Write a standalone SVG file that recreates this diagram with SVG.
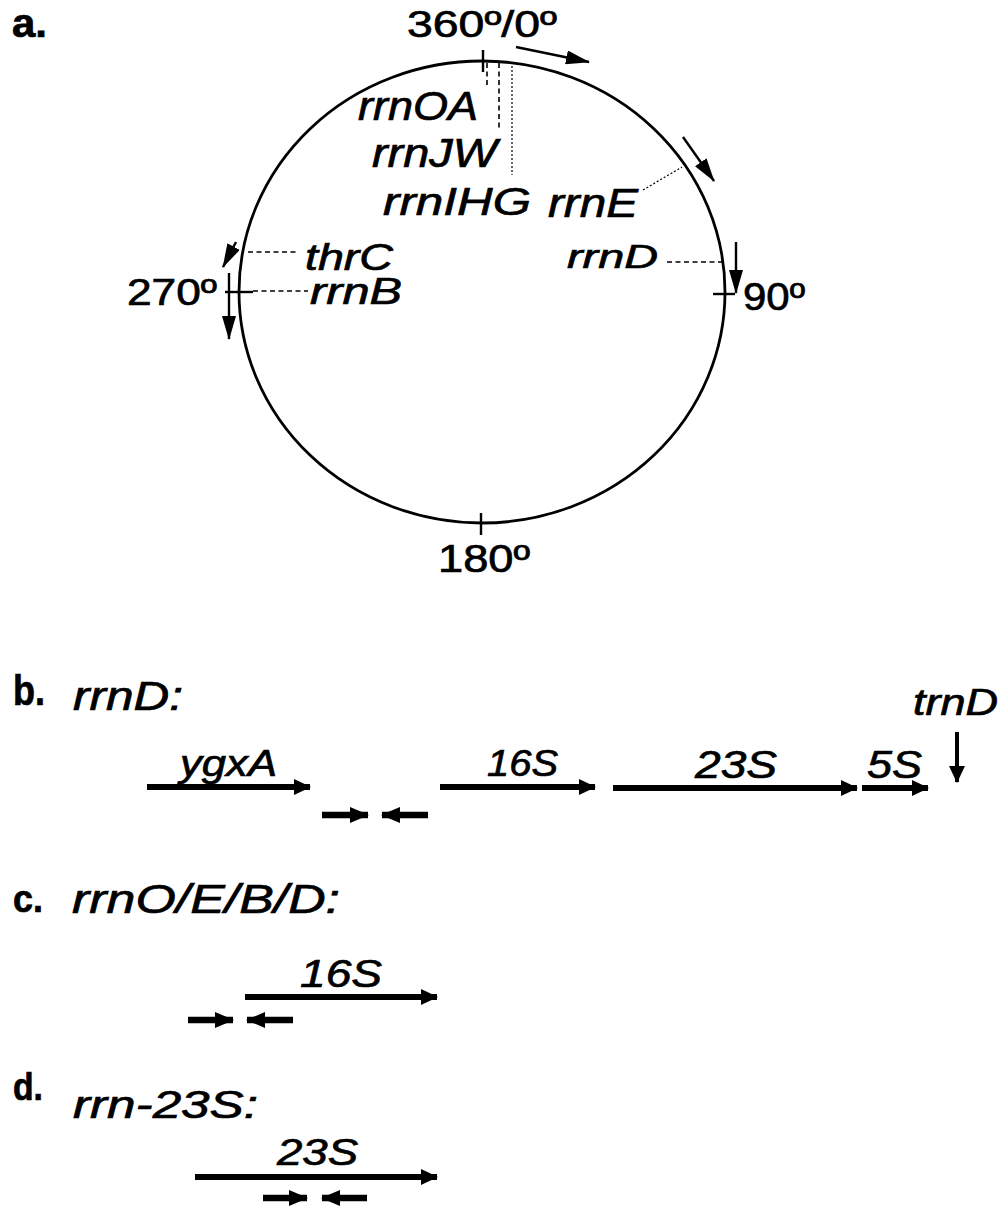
<svg xmlns="http://www.w3.org/2000/svg" width="1005" height="1206" viewBox="0 0 1005 1206">
<defs>
<style>
text{font-family:"Liberation Sans",Arial,sans-serif;fill:#000;stroke:#000;stroke-width:0.7}
.it{font-style:italic}
.bd{font-weight:bold}
.ln{stroke:#000;fill:none}
.thin{stroke-width:2.4}
.dash{stroke-width:1.6;stroke-dasharray:5 3.5}
.dot{stroke-width:1.2;stroke-dasharray:2 2}
.gene{stroke-width:6}
.primer{stroke-width:6.5}
</style>
<marker id="hThin" markerUnits="userSpaceOnUse" markerWidth="24" markerHeight="14" refX="23" refY="7" orient="auto"><path d="M0,0 L24,7 L0,14 z" fill="#000"/></marker>
<marker id="hGene" markerUnits="userSpaceOnUse" markerWidth="17" markerHeight="16" refX="16" refY="8" orient="auto"><path d="M0,0 L17,8 L0,16 z" fill="#000"/></marker>
<marker id="hPrimer" markerUnits="userSpaceOnUse" markerWidth="19" markerHeight="16" refX="18" refY="8" orient="auto"><path d="M0,0 L19,8 L0,16 z" fill="#000"/></marker>
</defs>
<rect width="1005" height="1206" fill="#fff"/>

<g id="panel-a">
  <text class="bd" x="12" y="37" font-size="40" textLength="35" lengthAdjust="spacingAndGlyphs">a.</text>
  <g id="chromosome">
    <ellipse class="ln" cx="482" cy="292" rx="243" ry="231" stroke-width="2.8"/>
    <line class="ln thin" x1="483" y1="50" x2="483" y2="72"/>
    <line class="ln thin" x1="713" y1="294" x2="735" y2="294"/>
    <line class="ln thin" x1="481" y1="513" x2="481" y2="535"/>
    <line class="ln thin" x1="225" y1="292" x2="253" y2="292"/>
  </g>
  <g id="degree-labels">
    <text x="407" y="37" font-size="37" textLength="150" lengthAdjust="spacingAndGlyphs">360º/0º</text>
    <text x="743" y="310" font-size="38" textLength="62" lengthAdjust="spacingAndGlyphs">90º</text>
    <text x="438" y="572" font-size="38" textLength="92" lengthAdjust="spacingAndGlyphs">180º</text>
    <text x="127" y="305" font-size="37" textLength="90" lengthAdjust="spacingAndGlyphs">270º</text>
  </g>
  <g id="node-rrnOA"><text class="it" x="358" y="120" font-size="40" textLength="120" lengthAdjust="spacingAndGlyphs">rrnOA</text></g>
  <g id="node-rrnJW"><text class="it" x="372" y="167" font-size="40" textLength="125" lengthAdjust="spacingAndGlyphs">rrnJW</text></g>
  <g id="node-rrnIHG"><text class="it" x="383" y="215" font-size="39" textLength="148" lengthAdjust="spacingAndGlyphs">rrnIHG</text></g>
  <g id="node-rrnE"><text class="it" x="548" y="217" font-size="40" textLength="90" lengthAdjust="spacingAndGlyphs">rrnE</text></g>
  <g id="node-rrnD"><text class="it" x="567" y="268" font-size="34" textLength="91" lengthAdjust="spacingAndGlyphs">rrnD</text></g>
  <g id="node-thrC"><text class="it" x="305" y="270" font-size="37" textLength="88" lengthAdjust="spacingAndGlyphs">thrC</text></g>
  <g id="node-rrnB"><text class="it" x="310" y="304" font-size="36" textLength="92" lengthAdjust="spacingAndGlyphs">rrnB</text></g>
  <g id="direction-arrows">
    <line class="ln thin" x1="516" y1="47" x2="589" y2="62" marker-end="url(#hThin)"/>
    <line class="ln thin" x1="683" y1="137" x2="714" y2="181" marker-end="url(#hThin)"/>
    <line class="ln thin" x1="736" y1="242" x2="736" y2="293" marker-end="url(#hThin)"/>
    <line class="ln thin" x1="236" y1="242" x2="223" y2="267" marker-end="url(#hThin)"/>
    <line class="ln thin" x1="229" y1="273" x2="229" y2="339" marker-end="url(#hThin)"/>
  </g>
</g>

<g id="connectors">
  <line class="ln dash" x1="487" y1="63" x2="487" y2="88"/>
  <line class="ln dash" x1="499" y1="63" x2="499" y2="130"/>
  <line class="ln dot" x1="512" y1="62" x2="512" y2="175"/>
  <line class="ln dot" x1="643" y1="190" x2="682" y2="167"/>
  <line class="ln dash" x1="667" y1="262" x2="723" y2="262"/>
  <line class="ln dash" x1="248" y1="252" x2="297" y2="252"/>
  <line class="ln dash" x1="253" y1="291" x2="308" y2="291"/>
</g>

<g id="panel-b">
  <text class="bd" x="13" y="705" font-size="42" textLength="32" lengthAdjust="spacingAndGlyphs">b.</text>
  <text class="it" x="73" y="710" font-size="40" textLength="110" lengthAdjust="spacingAndGlyphs">rrnD:</text>
  <g id="gene-ygxA">
    <line class="ln gene" x1="147" y1="787" x2="310" y2="787" marker-end="url(#hGene)"/>
    <text class="it" x="180" y="776" font-size="37" textLength="97" lengthAdjust="spacingAndGlyphs">ygxA</text>
  </g>
  <g id="gene-16S-b">
    <line class="ln gene" x1="440" y1="787" x2="595" y2="787" marker-end="url(#hGene)"/>
    <text class="it" x="487" y="776" font-size="37" textLength="71" lengthAdjust="spacingAndGlyphs">16S</text>
  </g>
  <g id="gene-23S-b">
    <line class="ln gene" x1="613" y1="788" x2="857" y2="788" marker-end="url(#hGene)"/>
    <text class="it" x="695" y="778" font-size="38" textLength="82" lengthAdjust="spacingAndGlyphs">23S</text>
  </g>
  <g id="gene-5S">
    <line class="ln gene" x1="862" y1="788" x2="928" y2="788" marker-end="url(#hGene)"/>
    <text class="it" x="867" y="778" font-size="38" textLength="55" lengthAdjust="spacingAndGlyphs">5S</text>
  </g>
  <g id="gene-trnD">
    <text class="it" x="913" y="715" font-size="36" textLength="85" lengthAdjust="spacingAndGlyphs">trnD</text>
    <line class="ln" stroke-width="4" x1="957" y1="732" x2="957" y2="782" marker-end="url(#hGene)"/>
  </g>
  <g id="primers-b">
    <line class="ln primer" x1="322" y1="815" x2="368" y2="815" marker-end="url(#hPrimer)"/>
    <line class="ln primer" x1="428" y1="815" x2="382" y2="815" marker-end="url(#hPrimer)"/>
  </g>
</g>

<g id="panel-c">
  <text class="bd" x="13" y="912" font-size="38" textLength="30" lengthAdjust="spacingAndGlyphs">c.</text>
  <text class="it" x="72" y="913" font-size="41" textLength="268" lengthAdjust="spacingAndGlyphs">rrnO/E/B/D:</text>
  <g id="gene-16S-c">
    <line class="ln gene" x1="245" y1="997" x2="437" y2="997" marker-end="url(#hGene)"/>
    <text class="it" x="300" y="987" font-size="38" textLength="82" lengthAdjust="spacingAndGlyphs">16S</text>
  </g>
  <g id="primers-c">
    <line class="ln primer" x1="188" y1="1020" x2="233" y2="1020" marker-end="url(#hPrimer)"/>
    <line class="ln primer" x1="293" y1="1020" x2="247" y2="1020" marker-end="url(#hPrimer)"/>
  </g>
</g>

<g id="panel-d">
  <text class="bd" x="13" y="1100" font-size="38" textLength="30" lengthAdjust="spacingAndGlyphs">d.</text>
  <text class="it" x="73" y="1118" font-size="38" textLength="185" lengthAdjust="spacingAndGlyphs">rrn-23S:</text>
  <g id="gene-23S-d">
    <line class="ln gene" x1="195" y1="1177" x2="437" y2="1177" marker-end="url(#hGene)"/>
    <text class="it" x="277" y="1165" font-size="36" textLength="81" lengthAdjust="spacingAndGlyphs">23S</text>
  </g>
  <g id="primers-d">
    <line class="ln primer" x1="263" y1="1198" x2="307" y2="1198" marker-end="url(#hPrimer)"/>
    <line class="ln primer" x1="367" y1="1198" x2="322" y2="1198" marker-end="url(#hPrimer)"/>
  </g>
</g>
</svg>
